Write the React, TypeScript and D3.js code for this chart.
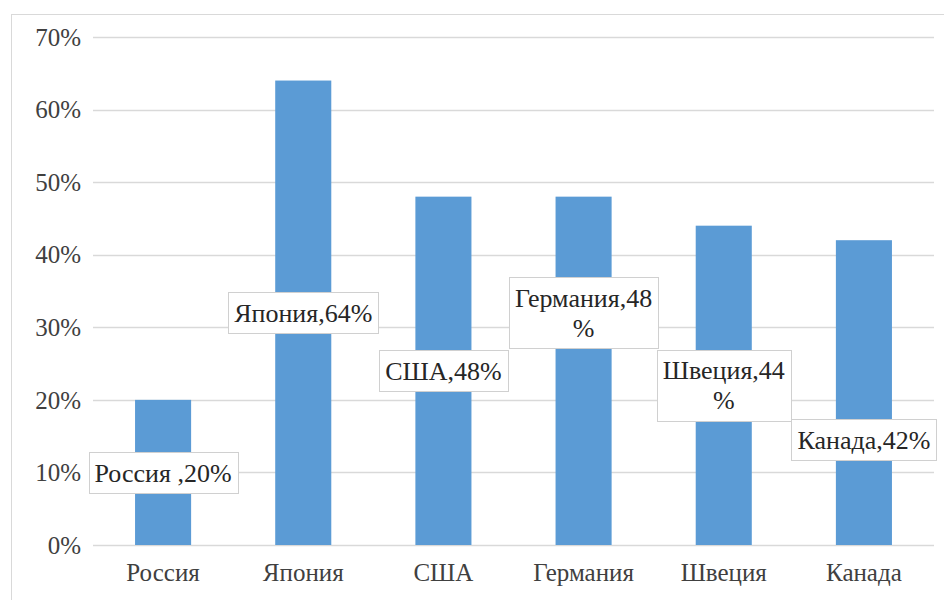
import React from "react";
import * as d3 from "d3";

const countries = ["Россия", "Япония", "США", "Германия", "Швеция", "Канада"];
const shares = [20, 64, 48, 48, 44, 42];
// text of each data label, split where the chart wraps it
const labelLines = [
  ["Россия ,20%"],
  ["Япония,64%"],
  ["США,48%"],
  ["Германия,48", "%"],
  ["Швеция,44", "%"],
  ["Канада,42%"],
];
// value (in %) at which each label box is centred
const labelAt = [10, 32, 24, 32, 22, 14.5];
const yTicks = [0, 10, 20, 30, 40, 50, 60, 70];

const W = 944;
const H = 600;
const FONT = "Liberation Serif";
const AXIS_SIZE = 25;
const LABEL_SIZE = 26;

const x = d3
  .scaleBand<string>()
  .domain(countries)
  .range([93, 934])
  .paddingInner(0.6)
  .paddingOuter(0.3);
const y = d3.scaleLinear().domain([0, 70]).range([545, 37]);

let ctx: CanvasRenderingContext2D | null = null;
function textWidth(s: string, size: number) {
  if (!ctx) ctx = document.createElement("canvas").getContext("2d");
  if (!ctx) return s.length * size * 0.5;
  ctx.font = size + "px '" + FONT + "'";
  return ctx.measureText(s).width;
}

const App = () => {
  const lineH = 30;
  return (
    <svg
      width={W}
      height={H}
      style={{ position: "absolute", left: 0, top: 0, background: "#fff", fontFamily: FONT }}
    >
      <rect x={11.5} y={14.5} width={W} height={H} fill="#fff" stroke="#d9d9d9" />

      {yTicks.map((t) => (
        <line
          key={"g" + t}
          x1={93}
          x2={934}
          y1={Math.round(y(t)) + 0.5}
          y2={Math.round(y(t)) + 0.5}
          stroke="#d9d9d9"
          strokeWidth={1.5}
        />
      ))}

      {yTicks.map((t) => (
        <text
          key={"t" + t}
          x={81}
          y={y(t)}
          dy="0.35em"
          textAnchor="end"
          fontSize={AXIS_SIZE}
          fill="#404040"
        >
          {t + "%"}
        </text>
      ))}

      {countries.map((c, i) => (
        <rect
          key={"b" + c}
          x={x(c)}
          width={x.bandwidth()}
          y={y(shares[i])}
          height={y(0) - y(shares[i])}
          fill="#5b9bd5"
        />
      ))}

      {countries.map((c) => (
        <text
          key={"c" + c}
          x={x(c)! + x.bandwidth() / 2}
          y={581}
          textAnchor="middle"
          fontSize={AXIS_SIZE}
          fill="#404040"
        >
          {c}
        </text>
      ))}

      {countries.map((c, i) => {
        const cx = x(c)! + x.bandwidth() / 2;
        const cy = y(labelAt[i]);
        const lines = labelLines[i];
        const tw = d3.max(lines, (l) => textWidth(l, LABEL_SIZE)) || 0;
        const bw = Math.round(tw + 12);
        const bh = lines.length * lineH + 11;
        return (
          <g key={"l" + c}>
            <rect
              x={Math.round(cx - bw / 2) + 0.5}
              y={Math.round(cy - bh / 2) + 0.5}
              width={bw}
              height={bh}
              fill="#fff"
              stroke="#d0d0d0"
            />
            <text textAnchor="middle" fontSize={LABEL_SIZE} fill="#262626">
              {lines.map((ln, k) => (
                <tspan
                  key={k}
                  x={cx}
                  y={cy + (k - (lines.length - 1) / 2) * lineH}
                  dy="0.35em"
                >
                  {ln}
                </tspan>
              ))}
            </text>
          </g>
        );
      })}
    </svg>
  );
};

export default App;
